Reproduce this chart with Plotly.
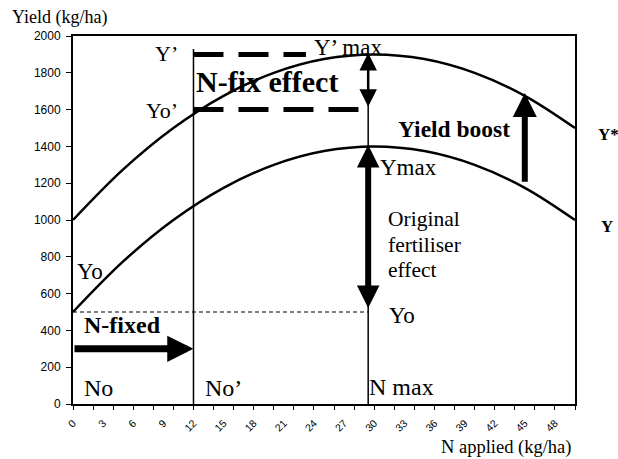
import plotly.graph_objects as go

# ---- data ----
n_applied = [0, 5, 10, 15, 20, 25, 30, 35, 40, 45, 50]
yield_y = [500, 775, 1000, 1175, 1300, 1375, 1400, 1375, 1300, 1175, 1000]
yield_ystar = [1000, 1275, 1500, 1675, 1800, 1875, 1900, 1875, 1800, 1675, 1500]

x_tick_vals = list(range(0, 49, 3))
x_tick_text = [str(v) for v in x_tick_vals]
y_tick_vals = list(range(0, 2001, 200))

n_o = 0
n_o_prime = 12
n_max = 29.4
y_o = 500
y_max = 1400
y_o_prime = 1600
y_prime = 1900
y_prime_line_end = 23.2
n_fixed_level = 300
boost_x = 45
boost_from = 1200
boost_to = 1690
vline_top = 1930

SERIF = "Liberation Serif"
SANS = "Liberation Sans"

fig = go.Figure()

# curves
fig.add_trace(go.Scatter(x=n_applied, y=yield_ystar, mode="lines", line=dict(color="black", width=2.5, shape="spline"), hoverinfo="skip"))
fig.add_trace(go.Scatter(x=n_applied, y=yield_y, mode="lines", line=dict(color="black", width=2.5, shape="spline"), hoverinfo="skip"))

# vertical thin lines
fig.add_trace(go.Scatter(x=[n_o_prime, n_o_prime], y=[0, vline_top], mode="lines", line=dict(color="black", width=1.5), hoverinfo="skip"))
fig.add_trace(go.Scatter(x=[n_max, n_max], y=[0, y_prime], mode="lines", line=dict(color="black", width=1.5), hoverinfo="skip"))
# thin dashed line at Yo
fig.add_trace(go.Scatter(x=[0, n_max], y=[y_o, y_o], mode="lines", line=dict(color="black", width=1, dash="4px,3px"), hoverinfo="skip"))
# thick dashed lines
fig.add_trace(go.Scatter(x=[n_o_prime, y_prime_line_end], y=[y_prime, y_prime], mode="lines", line=dict(color="black", width=5, dash="30px,15px"), hoverinfo="skip"))
fig.add_trace(go.Scatter(x=[n_o_prime, n_max], y=[y_o_prime, y_o_prime], mode="lines", line=dict(color="black", width=5, dash="30px,15px"), hoverinfo="skip"))

def arrow(x0, y0, x1, y1, width, size, both=False):
    fig.add_annotation(x=x1, y=y1, ax=x0, ay=y0, xref="x", yref="y", axref="x", ayref="y",
                       text="", showarrow=True, arrowhead=2, arrowsize=size, arrowwidth=width,
                       arrowcolor="black", arrowside="end+start" if both else "end",
                       startarrowhead=2, startarrowsize=size)

arrow(n_o, n_fixed_level, n_o_prime, n_fixed_level, 7, 0.75)
arrow(n_max, y_o_prime + 8, n_max, y_prime + 8, 2.5, 1.4, both=True)
arrow(n_max, y_o + 14, n_max, y_max + 8, 6, 0.75, both=True)
arrow(boost_x, boost_from, boost_x, boost_to, 6, 0.8)

def label(text, x, y, size, bold=False, xanchor="left", family=SERIF, ref="data"):
    kw = dict(xref="x", yref="y") if ref == "data" else dict(xref="paper", yref="paper")
    fig.add_annotation(x=x, y=y, text=f"<b>{text}</b>" if bold else text,
                       showarrow=False, xanchor=xanchor, yanchor="middle",
                       font=dict(family=family, size=size, color="black"), **kw)

# labels outside the plotting area (paper coordinates)
label("Yield (kg/ha)", -0.1255, 1.049, 18, ref="paper")
label("N applied (kg/ha)", 0.729, -0.117, 18.5, ref="paper")
label("Y*", 1.042, 0.731, 17, bold=True, ref="paper")
label("Y", 1.048, 0.481, 17, bold=True, ref="paper")

# labels inside the plotting area
label("Y’", 10.7, 1905, 22, xanchor="right")
label("Yo’", 10.7, 1595, 22, xanchor="right")
label("N-fix effect", 12.1, 1752, 30, bold=True)
label("Y’ max", 23.8, 1937, 23)
label("Yield boost", 32.2, 1492, 23.5, bold=True)
label("Ymax", 30.4, 1286, 23)
label("Original", 31.2, 1003, 21.5)
label("fertiliser", 31.2, 866, 21.5)
label("effect", 31.2, 730, 21.5)
label("Yo", 31.3, 483, 23)
label("N max", 29.3, 92, 24)
label("No’", 12.9, 88, 24)
label("No", 0.9, 88, 24)
label("Yo", 0.2, 722, 23)
label("N-fixed", 0.9, 429, 24, bold=True)

fig.update_layout(
    width=618, height=459,
    margin=dict(l=73, r=43, t=36, b=55),
    paper_bgcolor="white", plot_bgcolor="white",
    showlegend=False,
)
fig.update_xaxes(range=[0, 50], tickmode="array", tickvals=x_tick_vals, ticktext=x_tick_text,
                 tickangle=-45, ticks="", showgrid=False, zeroline=False,
                 ticklabelstandoff=7,
                 showline=True, linecolor="black", linewidth=2, mirror=True,
                 tickfont=dict(family=SANS, size=10.5, color="black"),
                 minor=dict(tickmode="linear", tick0=0, dtick=2, ticks="outside", ticklen=4, tickcolor="black", tickwidth=1, showgrid=False))
fig.update_yaxes(range=[0, 2000], tickmode="array", tickvals=y_tick_vals,
                 ticks="outside", ticklen=5, tickcolor="black", tickwidth=1,
                 ticklabelstandoff=3,
                 showgrid=False, zeroline=False,
                 showline=True, linecolor="black", linewidth=2, mirror=True,
                 tickfont=dict(family=SANS, size=12, color="black"))

fig.write_html("out.html", config={"displayModeBar": False},
               post_script="document.body.style.margin='0px';")
